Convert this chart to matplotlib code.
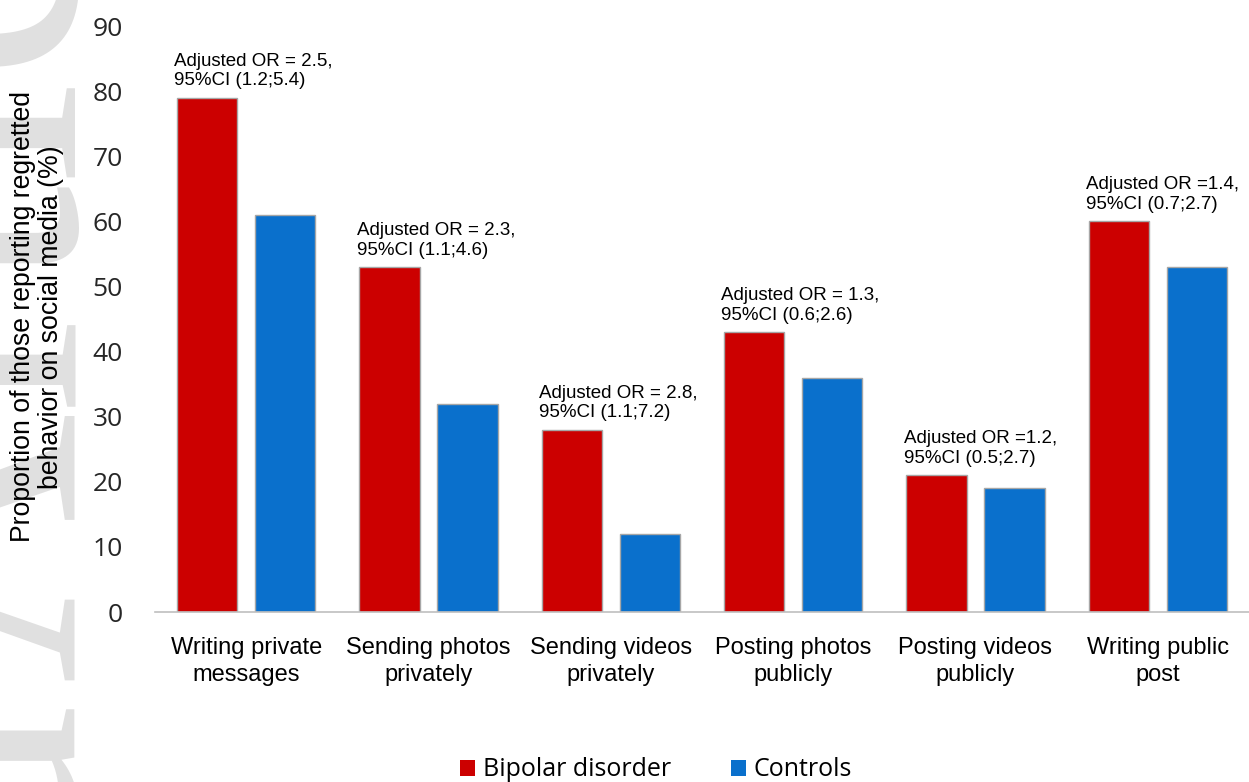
import matplotlib
matplotlib.use("Agg")
import matplotlib.pyplot as plt
from matplotlib.patches import Patch
from matplotlib import font_manager
import numpy as np

categories = [
    "Writing private\nmessages",
    "Sending photos\nprivately",
    "Sending videos\nprivately",
    "Posting photos\npublicly",
    "Posting videos\npublicly",
    "Writing public\npost",
]
bipolar = [79, 53, 28, 43, 21, 60]
controls = [61, 32, 12, 36, 19, 53]
or_labels = [
    "Adjusted OR = 2.5,\n95%CI (1.2;5.4)",
    "Adjusted OR = 2.3,\n95%CI (1.1;4.6)",
    "Adjusted OR = 2.8,\n95%CI (1.1;7.2)",
    "Adjusted OR = 1.3,\n95%CI (0.6;2.6)",
    "Adjusted OR =1.2,\n95%CI (0.5;2.7)",
    "Adjusted OR =1.4,\n95%CI (0.7;2.7)",
]
series_names = ["Bipolar disorder", "Controls"]
yticks = [0, 10, 20, 30, 40, 50, 60, 70, 80, 90]

RED = "#CC0000"
BLUE = "#0A70CC"
EDGE = "#A6A6A6"

installed = {f.name for f in font_manager.fontManager.ttflist}
ylab_family = "Liberation Sans Narrow" if "Liberation Sans Narrow" in installed else "Liberation Sans"

W, H = 1249, 782
fig = plt.figure(figsize=(W / 100, H / 100), dpi=100)

# faint margin watermark, behind everything else
fig.text(72 / W, 1 - 680 / H, "Article", rotation=90, rotation_mode="anchor",
         ha="left", va="baseline", fontsize=270, color="#E0E0E0",
         family="Liberation Serif", zorder=-5)
fig.text(72 / W, 1 - 700 / H, "Accepted", rotation=90, rotation_mode="anchor",
         ha="right", va="baseline", fontsize=270, color="#E0E0E0",
         family="Liberation Serif", zorder=-5)

ax = fig.add_axes([155 / W, 1 - 612 / H, (W - 155) / W, (612 - 26) / H])
ax.patch.set_alpha(0)

x = np.arange(len(categories))
bw = 0.33
off = 0.214
ax.bar(x - off, bipolar, bw, color=RED, edgecolor=EDGE, linewidth=1.0, zorder=2)
ax.bar(x + off, controls, bw, color=BLUE, edgecolor=EDGE, linewidth=1.0, zorder=2)

for xi, v, lab in zip(x, bipolar, or_labels):
    ax.annotate(lab, xy=(xi - off - bw / 2, v), xytext=(-2, 6),
                textcoords="offset points", ha="left", va="bottom",
                fontsize=13.5, family="Liberation Sans", linespacing=1.2)

ax.set_xlim(-0.5, len(categories) - 0.5)
ax.set_ylim(0, 90)
ax.set_yticks(yticks)
ax.set_yticklabels([str(t) for t in yticks], family="Open Sans", fontsize=19,
                   color="#262626")
ax.set_xticks(x)
ax.set_xticklabels(categories, family="Liberation Sans", fontsize=17,
                   linespacing=1.32)
ax.tick_params(axis="y", length=0, pad=23)
ax.tick_params(axis="x", length=0, pad=18)
for s in ["top", "right", "left"]:
    ax.spines[s].set_visible(False)
ax.spines["bottom"].set_color("#BFBFBF")
ax.spines["bottom"].set_linewidth(1.2)

# y-axis title, sized so its longer line runs about 450 px
ylab = "Proportion of those reporting regretted\nbehavior on social media (%)"
ytitle = fig.text(37 / W, 1 - 317 / H, ylab, rotation=90, ha="center", va="center",
                  family=ylab_family, fontsize=18, linespacing=1.12)
fig.canvas.draw()
span = ytitle.get_window_extent().height
ytitle.set_fontsize(18 * 450 / span)

handles = [Patch(facecolor=RED, edgecolor="none"),
           Patch(facecolor=BLUE, edgecolor="none")]
fig.legend(handles, series_names, loc="center", bbox_to_anchor=(656 / W, 1 - 770 / H),
           ncol=2, frameon=False, prop={"family": "Open Sans", "size": 18},
           handlelength=0.6, handleheight=0.6, handletextpad=0.3, columnspacing=2.4)

fig.savefig("out.png", dpi=100)
